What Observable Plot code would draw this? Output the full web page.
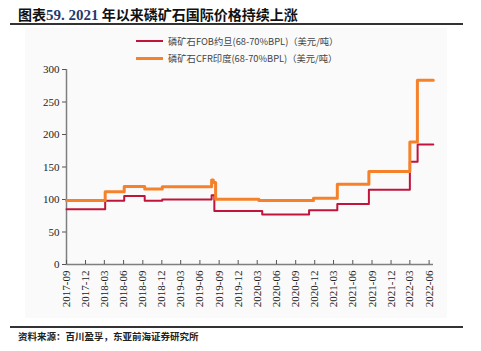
<!DOCTYPE html>
<html>
<head>
<meta charset="utf-8">
<script src="https://cdn.jsdelivr.net/npm/d3@7"></script>
<script src="https://cdn.jsdelivr.net/npm/@observablehq/plot@0.6"></script>
<style>
  html, body { margin: 0; padding: 0; background: #fff; }
  #wrap { position: relative; width: 481px; height: 351px; overflow: hidden; font-family: "Noto Sans CJK SC", sans-serif; }
  #panel { position: absolute; left: 25px; top: 28px; width: 422px; height: 290px; background: #fafafa; }
  #title { position: absolute; left: 18px; top: 4px; font-size: 14px; font-weight: bold; color: #111; white-space: nowrap; line-height: 20px; }
  #title .num { color: #1f3a6e; font-family: "Liberation Serif", serif; font-size: 15px; }
  .hr { position: absolute; left: 10px; width: 453px; background: #333; }
  #foot { position: absolute; left: 18px; top: 329px; font-size: 9.5px; font-weight: bold; color: #222; white-space: nowrap; line-height: 14px; }
  #chart { position: absolute; left: 0; top: 0; }
  .leg { position: absolute; left: 136px; font-size: 9.3px; color: #444; white-space: nowrap; line-height: 12px; }
  .leg i { display: inline-block; width: 27px; vertical-align: middle; margin-right: 5px; position: relative; top: -1px; }
</style>
</head>
<body>
<div id="wrap">
  <div id="panel"></div>
  <div id="title">图表<span class="num">59. 2021</span> 年以来磷矿石国际价格持续上涨</div>
  <div class="hr" style="top:23px;height:2px;"></div>
  <div id="chart"></div>
  <div class="leg" style="top:35px;"><i style="height:2px;background:#c0143c;"></i>磷矿石FOB约旦(68-70%BPL)（美元/吨）</div>
  <div class="leg" style="top:52px;"><i style="height:3px;background:#f5822a;"></i>磷矿石CFR印度(68-70%BPL)（美元/吨）</div>
  <div class="hr" style="top:326px;height:1.5px;"></div>
  <div id="foot">资料来源：百川盈孚，东亚前海证券研究所</div>
</div>
<script>
// ---- data ----
const fobDates = ["2017-09-01","2018-03-05","2018-06-04","2018-09-10","2018-12-03","2019-07-27","2019-08-09","2020-03-25","2020-11-04","2021-03-19","2021-08-17","2022-03-01","2022-04-07","2022-06-21"];
const fobValues = [85, 98, 105.5, 98, 100, 106.5, 82.5, 77, 83.5, 93, 115, 158, 184.5, 184.5];

const cfrDates = ["2017-09-01","2018-03-05","2018-06-04","2018-09-10","2018-12-03","2019-07-27","2019-08-04","2019-08-15","2020-03-09","2020-11-25","2021-03-19","2021-08-17","2022-03-01","2022-04-06","2022-06-21"];
const cfrValues = [98.5, 112, 120, 116, 119.5, 130, 126, 100.5, 98.5, 102, 123.5, 143, 188.5, 283.5, 283.5];

const xTickLabels = ["2017-09","2017-12","2018-03","2018-06","2018-09","2018-12","2019-03","2019-06","2019-09","2019-12","2020-03","2020-06","2020-09","2020-12","2021-03","2021-06","2021-09","2021-12","2022-03","2022-06"];
const yTicks = [0, 50, 100, 150, 200, 250, 300];
const xDomainLabels = ["2017-09-01", "2022-06-22"];

// ---- build ----
const parseDay = d3.utcParse("%Y-%m-%d");
const parseMonth = d3.utcParse("%Y-%m");
const fob = fobDates.map((d, i) => ({date: parseDay(d), value: fobValues[i]}));
const cfr = cfrDates.map((d, i) => ({date: parseDay(d), value: cfrValues[i]}));
const xTicks = xTickLabels.map(parseMonth);
const xDomain = xDomainLabels.map(parseDay);
const serif = "'Liberation Serif', 'Times New Roman', serif";

const chart = Plot.plot({
  width: 481,
  height: 351,
  marginTop: 69,
  marginBottom: 87,
  marginLeft: 66,
  marginRight: 48,
  style: {background: "transparent", fontFamily: serif, fontSize: "11px", color: "#222"},
  x: {type: "utc", domain: xDomain},
  y: {domain: [0, 300]},
  marks: [
    Plot.ruleX([xDomain[0]], {y1: 0, y2: 300, stroke: "#7f7f7f", strokeWidth: 1.5}),
    Plot.ruleY([0], {x1: xDomain[0], x2: xDomain[1], stroke: "#7f7f7f", strokeWidth: 1.5}),
    Plot.axisY(yTicks, {tickSize: 4, tickPadding: 3, label: null, fontSize: 11, fontFamily: serif, stroke: "#555"}),
    Plot.axisX(xTicks, {tickSize: 4, tickFormat: () => "", label: null, dy: -4, stroke: "#555"}),
    Plot.axisX(xTicks, {tickSize: 0, tickPadding: 6, tickRotate: -90, tickFormat: d3.utcFormat("%Y-%m"), label: null, fontSize: 11, fontFamily: serif}),
    Plot.line(fob, {x: "date", y: "value", curve: "step-after", stroke: "#c0143c", strokeWidth: 2}),
    Plot.line(cfr, {x: "date", y: "value", curve: "step-after", stroke: "#f5822a", strokeWidth: 3})
  ]
});
document.getElementById("chart").appendChild(chart);
</script>
</body>
</html>
